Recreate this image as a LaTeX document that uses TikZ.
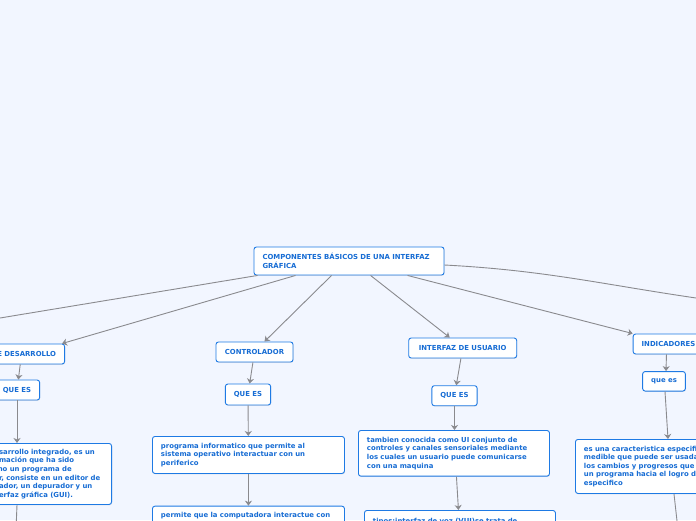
\documentclass[tikz,border=0pt]{standalone}
\usepackage{fontspec}
\newfontfamily\mapfont{DejaVu Sans}
\usetikzlibrary{positioning, arrows.meta, calc, shadows}
\definecolor{bgcol}{RGB}{242,246,255}
\definecolor{framecol}{RGB}{30,122,228}
\definecolor{txtcol}{RGB}{22,108,212}
\definecolor{linkcol}{RGB}{138,138,142}

\begin{document}
\begin{tikzpicture}[x=1pt,y=-1pt,font=\mapfont\bfseries\fontsize{6.9}{8.6}\selectfont,
  >={Stealth[length=5pt,width=7pt,inset=1.5pt]},
  box/.style={draw=framecol,line width=0.9pt,fill=white,rounded corners=2.5pt,text=txtcol,
    inner xsep=8.5pt,inner ysep=4pt,drop shadow={shadow xshift=0.5pt,shadow yshift=-0.8pt,opacity=0.18}},
  tp/.style={box,align=center,minimum height=20pt},
  ds/.style={box,align=left,text width=#1},
  link/.style={draw=linkcol,line width=0.9pt}]
  \fill[bgcol] (0,0) rectangle (696,520);
  \useasboundingbox (0,0) rectangle (696,520);
  \clip (0,0) rectangle (696,520);
  \node[ds=173pt,minimum height=28pt](root) at (349,261){COMPONENTES BÁSICOS DE UNA INTERFAZ\\GRÁFICA};
  \node[tp,anchor=east,text width=69pt,align=right](ed) at (65,354){E DESARROLLO};
  \node[tp,minimum width=44pt](qe1) at (17,390){QUE ES};
  \node[ds=104pt,anchor=north east,minimum height=61pt](de1) at (112,443){sarrollo integrado, es un\\mación que ha sido\\\hspace*{-3.5pt}mo un programa de\\r, consiste en un editor de\\ador, un depurador y un\\erfaz gráfica (GUI).};
  \node[tp,minimum width=77pt](ctl) at (254.5,352){CONTROLADOR};
  \node[tp,minimum width=44pt,minimum height=21pt](qe2) at (248,394.5){QUE ES};
  \node[ds=175pt,anchor=north west,minimum height=37pt](dc1) at (152,436){programa informatico que permite al\\sistema operativo interactuar con un\\periferico};
  \node[ds=175pt,anchor=north west,inner ysep=6.5pt,text depth=20pt](dc2) at (152,505.7){permite que la computadora interactue con};
  \node[tp,minimum width=108pt](iu) at (462.7,348){INTERFAZ DE USUARIO};
  \node[tp,minimum width=45pt](qe3) at (454.5,395.7){QUE ES};
  \node[ds=174pt,anchor=north west,minimum height=45.7pt](du1) at (358,430){tambien conocida como UI conjunto de\\controles y canales sensoriales mediante\\los cuales un usuario puede comunicarse\\con una maquina};
  \node[ds=174pt,anchor=north west,inner ysep=8pt,text depth=20pt](du2) at (364,510){tipos:interfaz de voz (VUI)se trata de};
  \node[tp,anchor=west](ind) at (632.7,344){INDICADORES};
  \node[tp,minimum width=42pt,minimum height=19.5pt](qe4) at (664,381.3){que es};
  \node[ds=140pt,anchor=north west,minimum height=54pt](di1) at (575,439){es una caracteristica especifica\\medible que puede ser usada\\los cambios y progresos que\\un programa hacia el logro de\\especifico};
  \coordinate (offl) at (-20,321.3);
  \coordinate (offr) at (710,300);
  \coordinate (edb) at (16,530);
  \coordinate (dib) at (678,530);
  \draw[link,->] ([xshift=4pt]root.south west) -- (offl);
  \draw[link,->] ([xshift=42pt]root.south west) -- ([xshift=-3pt]ed.north east);
  \draw[link,->] ([xshift=78pt]root.south west) -- ([xshift=10pt]ctl.north);
  \draw[link,->] ([xshift=117pt]root.south west) -- ([xshift=-13pt]iu.north);
  \draw[link,->] ([xshift=154pt]root.south west) -- (ind.north west);
  \draw[link] ([yshift=-4pt]root.east) to[out=-3,in=172] (offr);
  \draw[link,->] (ed) -- (qe1);
  \draw[link,->] (qe1) -- (qe1 |- de1.north);
  \draw[link,->] (de1.south -| qe1) -- (edb);
  \draw[link,->] (ctl) -- (qe2);
  \draw[link,->] (qe2) -- (dc1);
  \draw[link,->] (dc1) -- (dc1 |- dc2.north);
  \draw[link,->] (iu) -- (qe3);
  \draw[link,->] (qe3) -- (qe3 |- du1.north);
  \draw[link,->] ([xshift=2.5pt]du1.south) -- ([xshift=-1.5pt]du2.north);
  \draw[link,->] ([xshift=-2pt]ind.south) -- ([xshift=2pt]qe4.north);
  \draw[link,->] ([xshift=1pt]qe4.south) -- ([xshift=93pt]di1.north west);
  \draw[link,->] ([xshift=99pt]di1.south west) -- (dib);
\end{tikzpicture}
\end{document}
